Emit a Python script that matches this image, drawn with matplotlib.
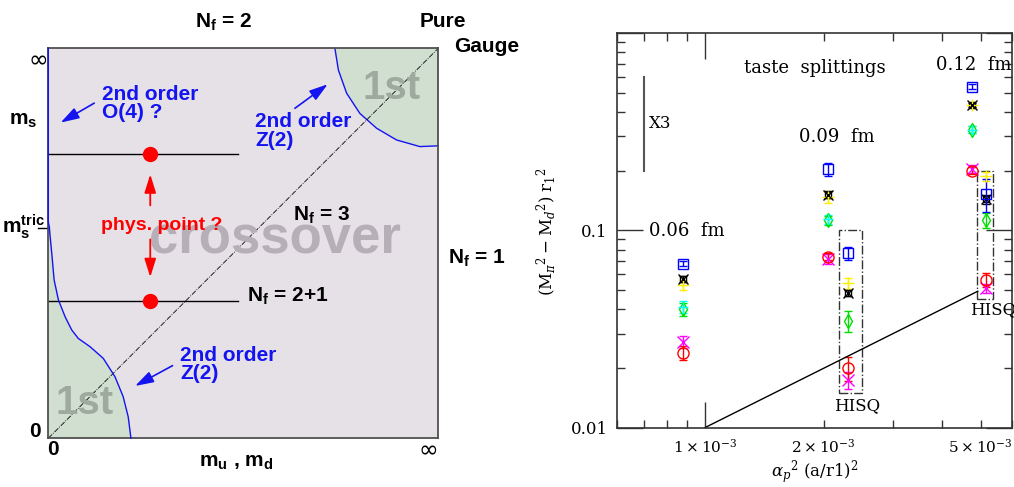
import numpy as np
import matplotlib
matplotlib.use('Agg')
import matplotlib.pyplot as plt
from matplotlib.patches import Rectangle, Polygon
from matplotlib.ticker import LogLocator, FuncFormatter, NullFormatter

plt.rcParams['mathtext.fontset'] = 'custom'
plt.rcParams['mathtext.bf'] = 'Liberation Sans:bold'
plt.rcParams['mathtext.rm'] = 'Liberation Sans'
plt.rcParams['mathtext.it'] = 'Liberation Sans:italic'

# ---------------- left panel: schematic phase diagram ----------------
upper_curve_x = [0.735, 0.744, 0.765, 0.799, 0.842, 0.893, 0.953, 1.0]
upper_curve_y = [1.0, 0.944, 0.885, 0.833, 0.795, 0.765, 0.748, 0.750]

lower_curve_x = [0.212, 0.205, 0.192, 0.171, 0.141, 0.107, 0.077, 0.060, 0.043,
                 0.026, 0.015, 0.009, 0.004, 0.0026, 0.001, 0.0, 0.0]
lower_curve_y = [0.0, 0.055, 0.107, 0.158, 0.205, 0.235, 0.256, 0.278, 0.312,
                 0.355, 0.406, 0.474, 0.526, 0.543, 0.55, 0.556, 1.0]

ms_levels = [0.729, 0.353]     # N_f = 2+1 lines (physical m_s candidates)
phys_x = 0.2615

# ---------------- right panel: taste splittings ----------------
a_asqtad = [0.88e-3, 2.05e-3, 4.76e-3]
a_hisq = [2.31e-3, 5.15e-3]

blue = [0.0678, 0.205, 0.535]
blue_err = [0.002, 0.016, 0.015]
black = [0.0566, 0.152, 0.433]
black_err = [0.002, 0.006, 0.012]
yellow = [0.053, 0.148, 0.433]
yellow_err = [0.003, 0.010, 0.015]
cyan = [0.041, 0.114, 0.325]
cyan_err = [0.003, 0.006, 0.012]
green = [0.0399, 0.113, 0.325]
green_err = [0.003, 0.006, 0.012]
magenta = [0.0273, 0.0716, 0.205]
magenta_err = [0.002, 0.004, 0.010]
red = [0.024, 0.0735, 0.201]
red_err = [0.002, 0.003, 0.008]

blue_h = [0.0768, 0.153]
blue_h_err = [0.006, 0.029]
yellow_h = [0.0541, 0.188]
yellow_h_err = [0.0035, 0.010]
black_h = [0.0481, 0.144]
black_h_err = [0.0017, 0.007]
green_h = [0.0349, 0.1125]
green_h_err = [0.0042, 0.010]
red_h = [0.020, 0.0562]
red_h_err = [0.0028, 0.0045]
magenta_h = [0.01746, 0.0508]
magenta_h_err = [0.0017, 0.0025]

slope_x = [1e-3, 4.92e-3]
slope_y = [0.01, 0.0492]

hisq_boxes = [(2.19e-3, 2.50e-3, 0.01495, 0.1), (4.89e-3, 5.39e-3, 0.0449, 0.2)]

fig = plt.figure(figsize=(10.14, 4.87), dpi=100)

# ======== left ========
ax = fig.add_axes([0.0476, 0.1, 0.3846, 0.8008])
ax.set_xlim(0, 1)
ax.set_ylim(0, 1)
ax.set_xticks([])
ax.set_yticks([])
ax.set_facecolor('#e6e1e6')
for s in ax.spines.values():
    s.set_color('#505050')
    s.set_linewidth(1.3)

SANS = 'Liberation Sans'
BLUE = '#1414f0'
GREEN = '#d0dfd0'

ax.add_patch(Polygon(list(zip(upper_curve_x, upper_curve_y)) + [(1, 1)],
                     closed=True, facecolor=GREEN, edgecolor='none'))
ax.add_patch(Polygon([(0, 0)] + list(zip(lower_curve_x[:14], lower_curve_y[:14])) + [(0, 0.543)],
                     closed=True, facecolor=GREEN, edgecolor='none'))
ax.plot(upper_curve_x, upper_curve_y, color=BLUE, lw=1.0, clip_on=False)
ax.plot(lower_curve_x, lower_curve_y, color=BLUE, lw=1.0, clip_on=False, zorder=5)

ax.plot([0, 1], [0, 1], color='black', lw=0.6, ls='-.')

ax.text(0.581, 0.509, 'crossover', fontsize=38, fontweight='bold', family=SANS,
        color='#b7afb7', ha='center', va='center')
ax.text(0.88, 0.897, '1st', fontsize=29, fontweight='bold', family=SANS,
        color='#9daa9d', ha='center', va='center')
ax.text(0.094, 0.09, '1st', fontsize=29, fontweight='bold', family=SANS,
        color='#9daa9d', ha='center', va='center')

for yv in ms_levels:
    ax.plot([0, 0.487], [yv, yv], color='black', lw=1.0)
    ax.plot(phys_x, yv, 'o', color='red', ms=10, zorder=6)

arr_red = dict(arrowstyle='-|>,head_length=0.8,head_width=0.25', color='red', lw=1.3, mutation_scale=14)
ax.annotate('', xy=(phys_x, 0.684), xytext=(phys_x, 0.59), arrowprops=arr_red)
ax.annotate('', xy=(phys_x, 0.406), xytext=(phys_x, 0.517), arrowprops=arr_red)
ax.text(0.291, 0.545, 'phys. point ?', color='red', fontsize=14, fontweight='bold',
        family=SANS, ha='center', va='center')

arr_blue = dict(arrowstyle='-|>,head_length=0.8,head_width=0.25', color=BLUE, lw=1.2, mutation_scale=14)
ax.annotate('', xy=(0.0256, 0.806), xytext=(0.124, 0.863), arrowprops=arr_blue)
ax.annotate('', xy=(0.7223, 0.912), xytext=(0.6267, 0.842), arrowprops=arr_blue)
ax.annotate('', xy=(0.2164, 0.1308), xytext=(0.3249, 0.1897), arrowprops=arr_blue)

blue_kw = dict(color=BLUE, fontsize=15, fontweight='bold', family=SANS,
               ha='left', va='center', linespacing=0.95)
ax.text(0.137, 0.858, '2nd order\nO(4) ?', **blue_kw)
ax.text(0.530, 0.788, '2nd order\nZ(2)', **blue_kw)
ax.text(0.338, 0.189, '2nd order\nZ(2)', **blue_kw)

lab = dict(fontsize=15, fontweight='bold', family=SANS, ha='center', va='center', color='black')
ax.text(0.4487, 1.066, r'$\mathbf{N_f}$ = 2', **lab)
ax.text(1.013, 1.068, 'Pure', **lab)
ax.text(1.124, 1.004, 'Gauge', **lab)
ax.text(0.701, 0.572, r'$\mathbf{N_f}$ = 3', **lab)
ax.text(1.098, 0.462, r'$\mathbf{N_f}$ = 1', **lab)
ax.text(0.615, 0.365, r'$\mathbf{N_f}$ = 2+1', **lab)
ax.text(0.483, -0.062, r'$\mathbf{m_u}$ , $\mathbf{m_d}$', **lab)
ax.text(0.0128, -0.030, '0', **lab)
ax.text(-0.034, 0.017, '0', **lab)
ax.text(-0.064, 0.815, r'$\mathbf{m_s}$', **lab)
ax.text(-0.064, 0.542, r'$\mathbf{m_s^{tric}}$', **lab)
ax.text(0.974, -0.030, '\u221e', fontsize=17, ha='center', va='center', family='DejaVu Sans')
ax.text(-0.026, 0.970, '\u221e', fontsize=17, ha='center', va='center', family='DejaVu Sans')
ax.plot([-0.0256, 0], [0.540, 0.540], color='black', lw=1.0, clip_on=False)

# ======== right ========
SERIF = 'DejaVu Serif'
bx = fig.add_axes([0.6088, 0.1218, 0.389, 0.8099])
bx.set_xscale('log')
bx.set_yscale('log')
bx.set_xlim(6e-4, 6e-3)
bx.set_ylim(0.01, 1.0)
for s in bx.spines.values():
    s.set_linewidth(1.2)
    s.set_color('#333333')

bx.xaxis.set_major_locator(LogLocator(base=10, numticks=10))
bx.xaxis.set_minor_locator(LogLocator(base=10, subs=np.arange(2, 10), numticks=10))
bx.yaxis.set_major_locator(LogLocator(base=10, numticks=10))
bx.yaxis.set_minor_locator(LogLocator(base=10, subs=np.arange(2, 10), numticks=10))


def xmajor(v, pos):
    return r'$1\times10^{-3}$' if abs(v - 1e-3) < 1e-6 else ''


def xminor(v, pos):
    for m in (2, 5):
        if abs(v - m * 1e-3) < 1e-6:
            return r'$%d\times10^{-3}$' % m
    return ''


def ymajor(v, pos):
    if abs(v - 0.01) < 1e-6:
        return '0.01'
    if abs(v - 0.1) < 1e-6:
        return '0.1'
    return ''


bx.xaxis.set_major_formatter(FuncFormatter(xmajor))
bx.xaxis.set_minor_formatter(FuncFormatter(xminor))
bx.yaxis.set_major_formatter(FuncFormatter(ymajor))
bx.yaxis.set_minor_formatter(NullFormatter())
bx.tick_params(which='both', direction='in', top=True, right=True, width=1.0,
               color='#333333', labelsize=12)
bx.tick_params(axis='x', which='both', labelsize=11)
bx.tick_params(which='major', length=19, pad=7)
bx.tick_params(which='minor', length=6, pad=7)
for t in bx.get_xticklabels(which='both') + bx.get_yticklabels():
    t.set_family(SERIF)
    t.set_math_fontfamily('dejavuserif')

eb = dict(ls='none', capsize=3, elinewidth=1.0, capthick=1.0, mfc='none', mew=1.0)
bx.errorbar(a_asqtad, magenta, yerr=magenta_err, marker='x', ms=8, color='magenta', **eb)
bx.errorbar(a_asqtad, red, yerr=red_err, marker='o', ms=8, color='red', **eb)
bx.errorbar(a_asqtad, green, yerr=green_err, marker='d', ms=7, color='#00e000', **eb)
bx.errorbar(a_asqtad, cyan, yerr=cyan_err, marker='+', ms=7, color='cyan', **eb)
bx.errorbar(a_asqtad, yellow, yerr=yellow_err, marker='+', ms=8, color='#ffee00', **eb)
bx.errorbar(a_asqtad, black, yerr=black_err, marker='x', ms=7, color='black', **eb)
bx.plot(a_asqtad, black, 's', ms=4, mfc='none', mec='black', mew=1.0)
bx.errorbar(a_asqtad, blue, yerr=blue_err, marker='s', ms=7, color='blue', **eb)

bx.errorbar(a_hisq, magenta_h, yerr=magenta_h_err, marker='x', ms=8, color='magenta', **eb)
bx.errorbar(a_hisq, red_h, yerr=red_h_err, marker='o', ms=8, color='red', **eb)
bx.errorbar(a_hisq, green_h, yerr=green_h_err, marker='d', ms=7, color='#00e000', **eb)
bx.errorbar(a_hisq, yellow_h, yerr=yellow_h_err, marker='+', ms=8, color='#ffee00', **eb)
bx.errorbar(a_hisq, black_h, yerr=black_h_err, marker='x', ms=7, color='black', **eb)
bx.plot(a_hisq, black_h, 's', ms=4, mfc='none', mec='black', mew=1.0)
bx.errorbar(a_hisq, blue_h, yerr=blue_h_err, marker='s', ms=7, color='blue', **eb)

for x0, x1, y0, y1 in hisq_boxes:
    bx.add_patch(Rectangle((x0, y0), x1 - x0, y1 - y0, fill=False, ls='-.',
                           lw=1.0, edgecolor='#333333'))

bx.plot(slope_x, slope_y, color='black', lw=1.0)
bx.plot([0.7e-3, 0.7e-3], [0.2, 0.6], color='#555555', lw=1.5)

tk = dict(fontsize=13, family=SERIF, color='black')
bx.text(0.72e-3, 0.348, 'X3', va='center', ha='left', fontsize=12, family=SERIF)
bx.text(1.905e-3, 0.67, 'taste  splittings', va='center', ha='center', **tk)
bx.text(3.86e-3, 0.69, '0.12  fm', va='center', ha='left', clip_on=False, **tk)
bx.text(1.73e-3, 0.299, '0.09  fm', va='center', ha='left', **tk)
bx.text(0.72e-3, 0.0997, '0.06  fm', va='center', ha='left', **tk)
bx.text(2.12e-3, 0.0129, 'HISQ', va='center', ha='left', fontsize=12, family=SERIF)
bx.text(4.71e-3, 0.0396, 'HISQ', va='center', ha='left', fontsize=12, family=SERIF)

fig.text(0.5395, 0.524, r'$(\mathrm{M}_{\pi}{}^{2}-\mathrm{M}_{d}{}^{2})\ \mathrm{r}_{1}{}^{2}$',
         rotation=90, ha='center', va='center', fontsize=12, family=SERIF,
         math_fontfamily='dejavuserif')
fig.text(0.804, 0.03, r'$\alpha_{p}{}^{2}\ (\mathrm{a/r1})^{2}$', ha='center', va='center',
         fontsize=12, family=SERIF, math_fontfamily='dejavuserif')

fig.savefig('out.png', dpi=100)
